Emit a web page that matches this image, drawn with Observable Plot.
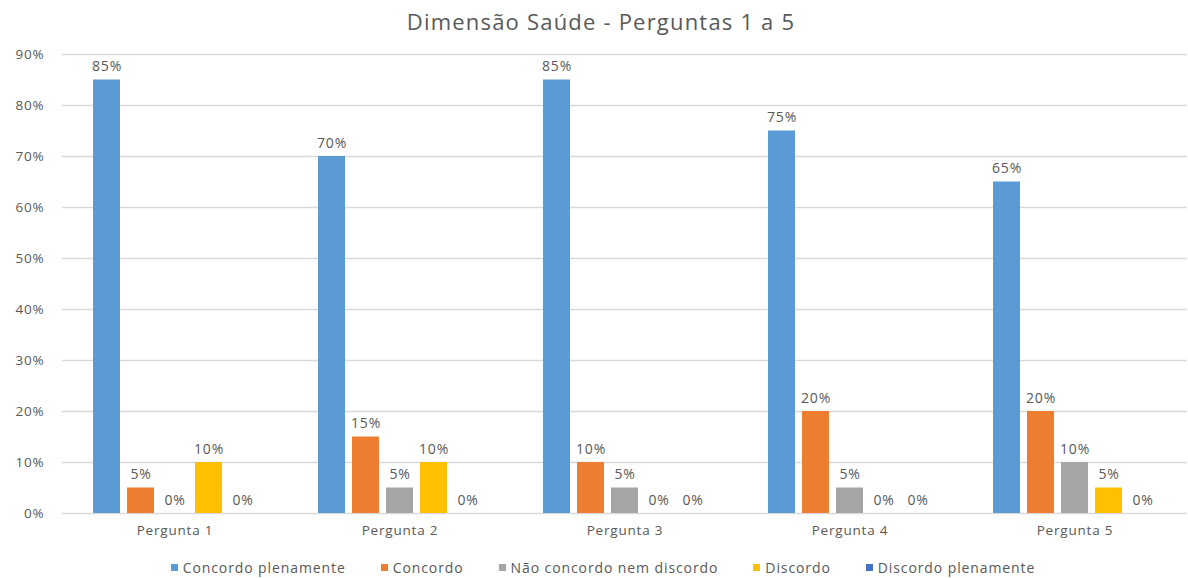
<!DOCTYPE html>
<html>
<head>
<meta charset="utf-8">
<script src="https://cdn.jsdelivr.net/npm/d3@7"></script>
<script src="https://cdn.jsdelivr.net/npm/@observablehq/plot@0.6"></script>
<style>
  body { margin: 0; background: #fff; font-family: "Open Sans", sans-serif; }
  #title { height: 40px; line-height: 42px; text-align: center; font-size: 22px; color: #595959; letter-spacing: 1.2px; padding-left: 14px; }
  #legend { display: flex; justify-content: center; margin-top: 9px; font-size: 14px; color: #595959; letter-spacing: 0.9px; padding-left: 18px; }
  #legend .item { display: flex; align-items: center; margin: 0 17.5px; }
  #legend .sw { width: 7px; height: 7px; margin-right: 5px; }
</style>
</head>
<body>
<div id="title">Dimensão Saúde - Perguntas 1 a 5</div>
<div id="chart"></div>
<div id="legend"></div>
<script>
const categories = ["Pergunta 1", "Pergunta 2", "Pergunta 3", "Pergunta 4", "Pergunta 5"];
const series = ["Concordo plenamente", "Concordo", "Não concordo nem discordo", "Discordo", "Discordo plenamente"];
const colors = ["#5B9BD5", "#ED7D31", "#A5A5A5", "#FFC000", "#4472C4"];
const concordoPlenamente = [85, 70, 85, 75, 65];
const concordo = [5, 15, 10, 20, 20];
const naoConcordoNemDiscordo = [0, 5, 5, 5, 10];
const discordo = [10, 10, 0, 0, 5];
const discordoPlenamente = [0, 0, 0, 0, 0];
const yTicks = [0, 10, 20, 30, 40, 50, 60, 70, 80, 90];

const seriesValues = [concordoPlenamente, concordo, naoConcordoNemDiscordo, discordo, discordoPlenamente];
const data = [];
categories.forEach((c, i) => {
  series.forEach((s, j) => data.push({category: c, series: s, value: seriesValues[j][i]}));
});

const chart = Plot.plot({
  width: 1188,
  height: 509,
  marginLeft: 60,
  marginRight: 0,
  marginTop: 14,
  marginBottom: 36,
  style: {fontFamily: "Open Sans, sans-serif", fontSize: "13.5px", color: "#595959", letterSpacing: "0.8px"},
  fx: {domain: categories, padding: 0, axis: "bottom", tickSize: 0, tickPadding: 12, label: null},
  x: {domain: series, paddingInner: 0.217, paddingOuter: 0.86, axis: null},
  y: {domain: [0, 90], ticks: yTicks, tickFormat: d => d + "%", tickSize: 0, tickPadding: 18, label: null},
  color: {domain: series, range: colors},
  marks: [
    Plot.ruleY(yTicks, {stroke: "#d9d9d9", strokeWidth: 1.3}),
    Plot.barY(data, {fx: "category", x: "series", y: "value", fill: "series"}),
    Plot.text(data, {fx: "category", x: "series", y: "value", text: d => d.value + "%", dy: -9, lineAnchor: "bottom", fill: "#595959", fontSize: 14})
  ]
});
document.getElementById("chart").appendChild(chart);

const legend = document.getElementById("legend");
series.forEach((s, i) => {
  const item = document.createElement("div");
  item.className = "item";
  const sw = document.createElement("span");
  sw.className = "sw";
  sw.style.background = colors[i];
  const t = document.createElement("span");
  t.textContent = s;
  item.appendChild(sw);
  item.appendChild(t);
  legend.appendChild(item);
});
</script>
</body>
</html>
